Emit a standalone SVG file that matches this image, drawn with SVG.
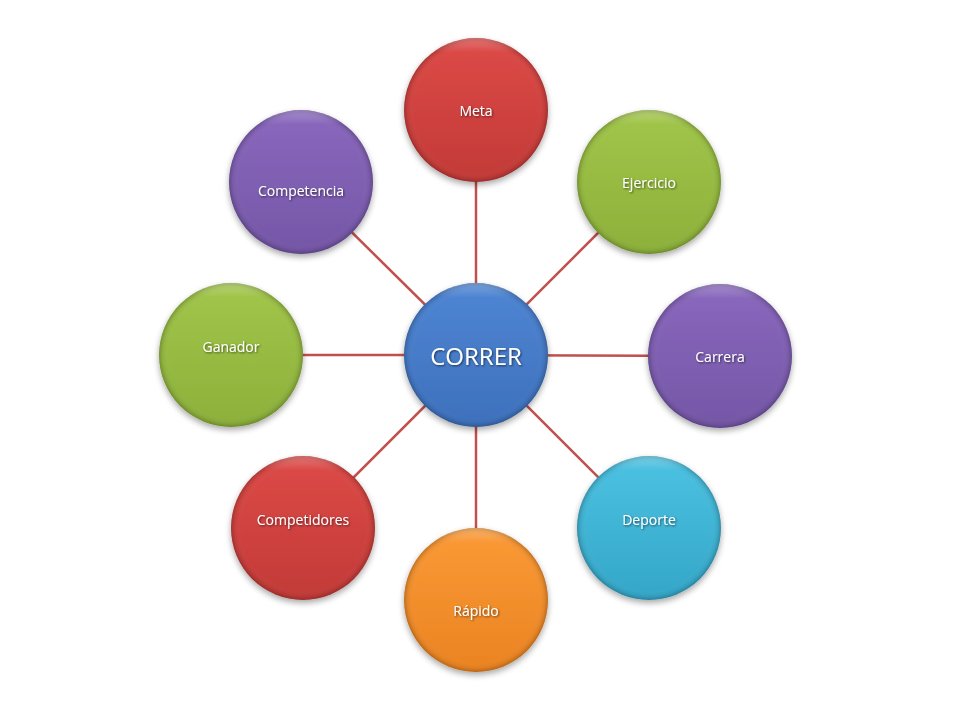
<svg xmlns="http://www.w3.org/2000/svg" width="960" height="720" viewBox="0 0 960 720">
<defs>
<filter id="sh" x="-30%" y="-30%" width="160%" height="170%">
<feGaussianBlur in="SourceAlpha" stdDeviation="3"/>
<feOffset dx="0" dy="3" result="b"/>
<feComponentTransfer><feFuncA type="linear" slope="0.35"/></feComponentTransfer>
<feMerge><feMergeNode/><feMergeNode in="SourceGraphic"/></feMerge>
</filter>
<filter id="ts" x="-10%" y="-30%" width="120%" height="160%">
<feGaussianBlur in="SourceAlpha" stdDeviation="0.8"/>
<feOffset dx="1" dy="1"/>
<feComponentTransfer><feFuncA type="linear" slope="0.6"/></feComponentTransfer>
<feMerge><feMergeNode/><feMergeNode in="SourceGraphic"/></feMerge>
</filter>
<linearGradient id="gRed" x1="0" y1="0" x2="0" y2="1"><stop offset="0" stop-color="#dd4a47"/><stop offset="1" stop-color="#c23a37"/></linearGradient>
<linearGradient id="gGreen" x1="0" y1="0" x2="0" y2="1"><stop offset="0" stop-color="#a2c64a"/><stop offset="1" stop-color="#8cb03a"/></linearGradient>
<linearGradient id="gPurple" x1="0" y1="0" x2="0" y2="1"><stop offset="0" stop-color="#8a68be"/><stop offset="1" stop-color="#7456a6"/></linearGradient>
<linearGradient id="gBlue" x1="0" y1="0" x2="0" y2="1"><stop offset="0" stop-color="#4f86d4"/><stop offset="1" stop-color="#3d70bc"/></linearGradient>
<linearGradient id="gCyan" x1="0" y1="0" x2="0" y2="1"><stop offset="0" stop-color="#4cc2e2"/><stop offset="1" stop-color="#34a6c8"/></linearGradient>
<linearGradient id="gOrange" x1="0" y1="0" x2="0" y2="1"><stop offset="0" stop-color="#fb9a36"/><stop offset="1" stop-color="#ea8322"/></linearGradient>
<radialGradient id="bevel" cx="0.5" cy="0.5" r="0.5">
<stop offset="0.86" stop-color="#fff" stop-opacity="0"/>
<stop offset="0.95" stop-color="#000" stop-opacity="0.06"/>
<stop offset="1" stop-color="#000" stop-opacity="0.22"/>
</radialGradient>
<linearGradient id="hl" x1="0" y1="0" x2="0" y2="1"><stop offset="0" stop-color="#fff" stop-opacity="0.25"/><stop offset="0.1" stop-color="#fff" stop-opacity="0"/><stop offset="1" stop-color="#fff" stop-opacity="0"/></linearGradient>
</defs>
<style>
.con line{stroke:#c0504d;stroke-width:2.5}
.node .bev{fill:url(#bevel)}
.node .hl{fill:url(#hl)}
.lbl{font-family:"Open Sans","Liberation Sans",sans-serif;font-size:14px;fill:#fff;text-anchor:middle;dominant-baseline:central}
.big{font-size:24px}
</style>
<rect width="960" height="720" fill="#fff"/>
<g id="connectors" class="con">
<line x1="476" y1="355" x2="476" y2="110"/>
<line x1="476" y1="355" x2="649" y2="182"/>
<line x1="476" y1="355" x2="720" y2="356"/>
<line x1="476" y1="355" x2="649" y2="528"/>
<line x1="476" y1="355" x2="476" y2="600"/>
<line x1="476" y1="355" x2="303" y2="528"/>
<line x1="476" y1="355" x2="231" y2="355"/>
<line x1="476" y1="355" x2="301" y2="182"/>
</g>
<g id="meta" class="node"><g filter="url(#sh)"><circle cx="476" cy="110" r="72" fill="url(#gRed)"/></g><circle class="bev" cx="476" cy="110" r="72"/><circle class="hl" cx="476" cy="110" r="72"/><text class="lbl" x="476" y="110" filter="url(#ts)">Meta</text></g>
<g id="ejercicio" class="node"><g filter="url(#sh)"><circle cx="649" cy="182" r="72" fill="url(#gGreen)"/></g><circle class="bev" cx="649" cy="182" r="72"/><circle class="hl" cx="649" cy="182" r="72"/><text class="lbl" x="649" y="182" filter="url(#ts)">Ejercicio</text></g>
<g id="carrera" class="node"><g filter="url(#sh)"><circle cx="720" cy="356" r="72" fill="url(#gPurple)"/></g><circle class="bev" cx="720" cy="356" r="72"/><circle class="hl" cx="720" cy="356" r="72"/><text class="lbl" x="720" y="356" filter="url(#ts)">Carrera</text></g>
<g id="deporte" class="node"><g filter="url(#sh)"><circle cx="649" cy="528" r="72" fill="url(#gCyan)"/></g><circle class="bev" cx="649" cy="528" r="72"/><circle class="hl" cx="649" cy="528" r="72"/><text class="lbl" x="649" y="519" filter="url(#ts)">Deporte</text></g>
<g id="rapido" class="node"><g filter="url(#sh)"><circle cx="476" cy="600" r="72" fill="url(#gOrange)"/></g><circle class="bev" cx="476" cy="600" r="72"/><circle class="hl" cx="476" cy="600" r="72"/><text class="lbl" x="476" y="610" filter="url(#ts)">Rápido</text></g>
<g id="competidores" class="node"><g filter="url(#sh)"><circle cx="303" cy="528" r="72" fill="url(#gRed)"/></g><circle class="bev" cx="303" cy="528" r="72"/><circle class="hl" cx="303" cy="528" r="72"/><text class="lbl" x="303" y="519" filter="url(#ts)">Competidores</text></g>
<g id="ganador" class="node"><g filter="url(#sh)"><circle cx="231" cy="355" r="72" fill="url(#gGreen)"/></g><circle class="bev" cx="231" cy="355" r="72"/><circle class="hl" cx="231" cy="355" r="72"/><text class="lbl" x="231" y="346" filter="url(#ts)">Ganador</text></g>
<g id="competencia" class="node"><g filter="url(#sh)"><circle cx="301" cy="182" r="72" fill="url(#gPurple)"/></g><circle class="bev" cx="301" cy="182" r="72"/><circle class="hl" cx="301" cy="182" r="72"/><text class="lbl" x="301" y="190" filter="url(#ts)">Competencia</text></g>
<g id="correr" class="node"><g filter="url(#sh)"><circle cx="476" cy="355" r="72" fill="url(#gBlue)"/></g><circle class="bev" cx="476" cy="355" r="72"/><circle class="hl" cx="476" cy="355" r="72"/><text class="lbl big" x="476" y="355" filter="url(#ts)">CORRER</text></g>
</svg>
